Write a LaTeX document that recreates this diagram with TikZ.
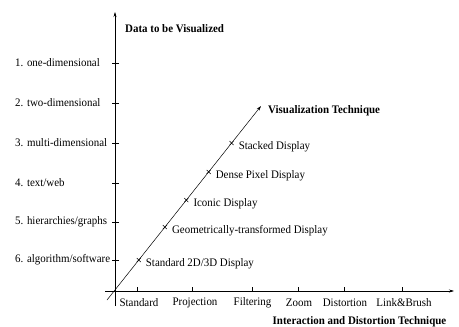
\documentclass[tikz,border=0pt]{standalone}
\usepackage{fontspec}
\setmainfont[FakeStretch=0.95]{Liberation Serif}
\usetikzlibrary{arrows.meta,calc}
\begin{document}
\begin{tikzpicture}[x=1pt,y=-1pt,
  axis/.style={line width=0.5pt,-{Stealth[length=5pt,width=3pt]}},
  tickmark/.style={line width=0.5pt},
  lbl/.style={font=\fontsize{11.5}{13}\selectfont,inner sep=0pt},
  ttl/.style={font=\fontsize{11.5}{13}\selectfont\bfseries,inner sep=0pt}]
\useasboundingbox (0,0) rectangle (459,327);

% axes
\coordinate (vbot) at (115,306);
\coordinate (vtop) at (115,12);
\coordinate (hleft) at (105,291);
\coordinate (hright) at (454,291);
\coordinate (dstart) at (107,300);
\coordinate (dend) at (261,106);
\draw[axis] (vbot) -- (vtop);
\draw[axis] (hleft) -- (hright);
\draw[axis] (dstart) -- (dend);

% axis titles
\node[ttl,anchor=west] (tdata) at (125,29) {Data to be Visualized};
\node[ttl,anchor=west] (tvis) at (268,111) {Visualization Technique};
\node[ttl] (tint) at (359.5,322) {Interaction and Distortion Technique};

% data types on the vertical axis
\foreach \y/\name/\txt in {63/d1/{1. one-dimensional}, 103/d2/{2. two-dimensional},
  143/d3/{3. multi-dimensional}, 183/d4/{4. text/web}, 222/d5/{5. hierarchies/graphs},
  260/d6/{6. algorithm/software}}{
  \draw[tickmark] (112,\y) -- (119,\y);
  \node[lbl,anchor=west] (\name) at (15,\y) {\txt};
}

% interaction techniques on the horizontal axis
\foreach \x/\lx/\name/\txt in {137/139/i1/Standard, 192/195/i2/Projection,
  252/252.5/i3/Filtering, 298/299/i4/Zoom, 344/345/i5/Distortion,
  402/404/i6/Link\&Brush}{
  \draw[tickmark] (\x,287) -- (\x,291);
  \node[lbl] (\name) at (\lx,303) {\txt};
}

% visualization techniques on the diagonal axis
\foreach \t/\name/\txt in {0.206/v1/{Standard 2D/3D Display},
  0.376/v2/{Geometrically-transformed Display}, 0.515/v3/{Iconic Display},
  0.660/v4/{Dense Pixel Display}, 0.809/v5/{Stacked Display}}{
  \coordinate (\name) at ($(dstart)!\t!(dend)$);
  \draw[tickmark] ($(\name)+(-2,-2)$) -- ($(\name)+(2,2)$)
                  ($(\name)+(-2,2)$) -- ($(\name)+(2,-2)$);
  \node[lbl,anchor=west] (\name l) at ($(\name)+(7,4)$) {\txt};
}
\end{tikzpicture}
\end{document}
